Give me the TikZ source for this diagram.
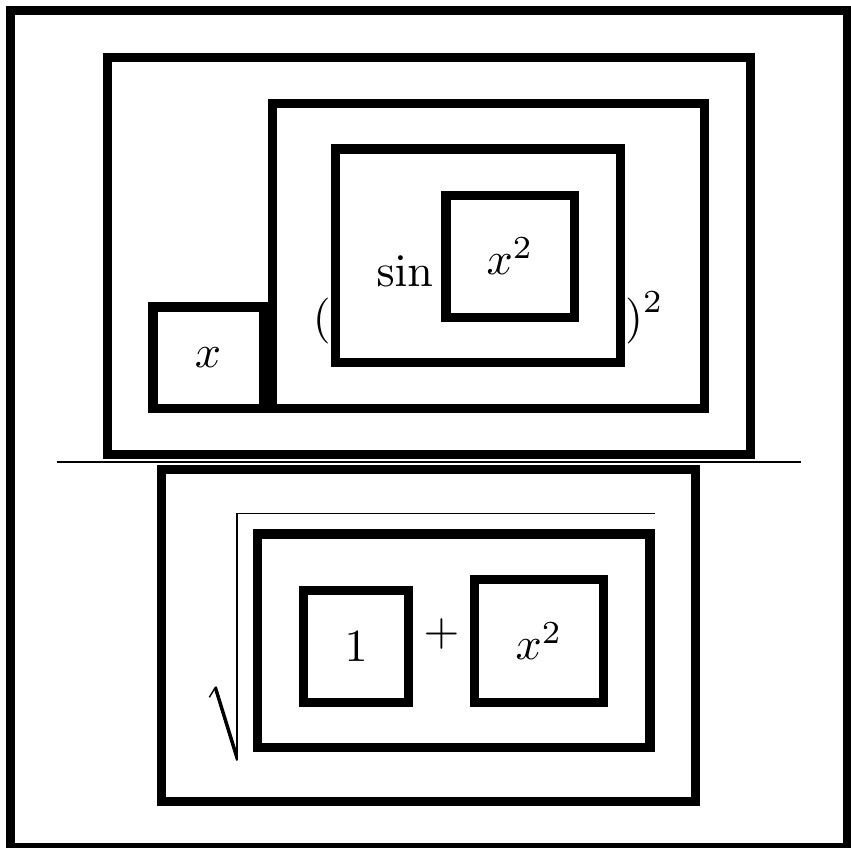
\documentclass[tikz,border=0pt]{standalone}
\begin{document}
\begin{tikzpicture}[x=1pt,y=-1pt,
  bx/.style={draw=black, line width=9.2pt, inner sep=0pt, outer sep=0pt},
  txt/.style={inner sep=0pt, outer sep=0pt, scale=4.6}]
\useasboundingbox (0,0) rectangle (851,848);
% outer frame
\node[bx, minimum width=837.3pt, minimum height=836.8pt] (frame) at (429.25,429) {};
% numerator
\node[bx, minimum width=643.1pt, minimum height=397.4pt] (numbox) at (429.15,256) {};
\node[bx, minimum width=110.2pt, minimum height=101.8pt] (xbox) at (208,357.8) {};
\node[bx, minimum width=432.4pt, minimum height=305.4pt] (pbox) at (488.5,256) {};
\node[bx, minimum width=285.1pt, minimum height=213.5pt] (sinbox) at (477.85,255.65) {};
\node[bx, minimum width=128.5pt, minimum height=121.8pt] (xsqbox) at (510.15,256.2) {};
\node[txt] (xt) at (xbox) {$x$};
\node[txt] (xsqt) at (xsqbox) {$x^2$};
\node[txt, anchor=base west] (sint) at (376.5,286) {$\sin$};
\node[txt, anchor=base east] (lpar) at (330.7,332) {$($};
\node[txt, anchor=base west] (rpar) at (625,332) {$)$};
\node[txt, anchor=base west] (sqr) at (643,312.3) {$\scriptstyle 2$};
% fraction rule
\coordinate (fl) at (57,462.2);
\coordinate (fr) at (801,462.2);
\draw[line width=2.2pt] (fl) -- (fr);
% denominator
\node[bx, minimum width=533.8pt, minimum height=331.8pt] (denbox) at (428.5,635.5) {};
\node[bx, minimum width=392.6pt, minimum height=213.2pt] (sqbox) at (453.6,640.5) {};
\node[bx, minimum width=105.1pt, minimum height=111.8pt] (onebox) at (356.15,646.5) {};
\node[bx, minimum width=129.1pt, minimum height=122.8pt] (xtwobox) at (539.15,641) {};
\node[txt] (onet) at (onebox) {$1$};
\node[txt] (xtwot) at (xtwobox) {$x^2$};
\node[txt] (plus) at (441.5,634) {$+$};
% radical sign
\coordinate (rt) at (209.3,697.3);
\coordinate (rp) at (215.8,686.8);
\coordinate (rb) at (236.85,760);
\coordinate (rtop) at (236.85,513.5);
\coordinate (rend) at (654.5,513.5);
\draw[line width=1.4pt] (rt) -- (rp);
\fill (213.8,688.3) -- (216.8,686.4) -- (237.7,754) -- (237.7,760.5) -- (236.0,760.5) -- cycle;
\draw[line width=1.7pt] (rb) -- (rtop) -- (rend);
\end{tikzpicture}
\end{document}
